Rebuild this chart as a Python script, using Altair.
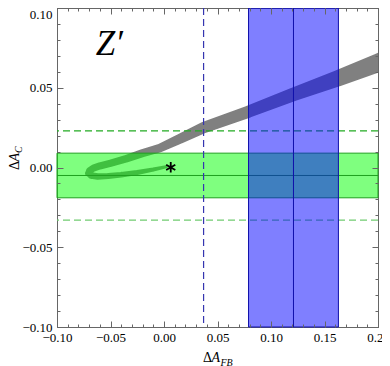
import altair as alt
import pandas as pd

# ---------------- data ----------------
X_DOMAIN = [-0.10, 0.20]
Y_DOMAIN = [-0.10, 0.10]
x_major = [-0.10, -0.05, 0.00, 0.05, 0.10, 0.15, 0.20]
y_major = [-0.10, -0.05, 0.00, 0.05, 0.10]
x_minor = [round(-0.10 + 0.01 * i, 2) for i in range(31)]
y_minor = [round(-0.10 + 0.01 * i, 2) for i in range(21)]

# grey Z' band: centre line (from the lower tip round the fold to the upper end)
curve_x = [0.002, -0.010, -0.025, -0.040, -0.052, -0.062, -0.068, -0.0705, -0.0695,
           -0.066, -0.060, -0.050, -0.035, -0.020, -0.004, 0.015, 0.037, 0.079,
           0.121, 0.163, 0.200, 0.215]
curve_y = [0.0005, -0.0013, -0.0031, -0.0045, -0.0053, -0.0056, -0.0050, -0.0036, -0.0020,
           -0.0004, 0.0010, 0.0027, 0.0056, 0.0090, 0.0121, 0.0180, 0.0250, 0.0350,
           0.0458, 0.0560, 0.0656, 0.0695]
# band width (in units of Delta A_C)
curve_w = [0.0020, 0.0026, 0.0031, 0.0035, 0.0038, 0.0041, 0.0042, 0.0043, 0.0043,
           0.0044, 0.0045, 0.0046, 0.0048, 0.0050, 0.0054, 0.0062, 0.0070, 0.0076,
           0.0085, 0.0102, 0.0117, 0.0122]

green_center = -0.005
green_band = [-0.019, 0.009]
green_dash_hi = 0.023
green_dash_lo = -0.033

blue_center = 0.121
blue_band = [0.079, 0.163]
blue_dash = 0.037

star_x, star_y = [0.0063], [0.0001]
zlabel_x, zlabel_y, zlabel_text = [-0.0638], [0.0705], ["Z\u2032"]

# ---------------- layout ----------------
W, H = 321, 319
PX_PER_Y = H / (Y_DOMAIN[1] - Y_DOMAIN[0])
FONT = "Liberation Serif"

xs = alt.Scale(domain=X_DOMAIN, nice=False, zero=False)
ys = alt.Scale(domain=Y_DOMAIN, nice=False, zero=False)


def X(f="x"):
    return alt.X(f"{f}:Q", scale=xs, axis=None)


def Y(f="y"):
    return alt.Y(f"{f}:Q", scale=ys, axis=None)


curve = pd.DataFrame({"x": curve_x, "y": curve_y,
                      "w": [w * PX_PER_Y for w in curve_w],
                      "i": list(range(len(curve_x)))})
trail = alt.Chart(curve).mark_trail(color="#808080", fill="#808080", clip=True).encode(
    x=X(), y=Y(), size=alt.Size("w:Q", scale=None, legend=None), order="i:Q")

gdf = pd.DataFrame({"x": [X_DOMAIN[0]], "x2": [X_DOMAIN[1]],
                    "y": [green_band[0]], "y2": [green_band[1]]})
grect = alt.Chart(gdf).mark_rect(fill="#00ff00", fillOpacity=0.5, stroke="#1fa01f",
                                 strokeWidth=1).encode(x=X(), x2="x2:Q", y=Y(), y2="y2:Q")
gline = alt.Chart(pd.DataFrame({"y": [green_center]})).mark_rule(
    color="#1fa01f", strokeWidth=1).encode(y=Y())
gdash_hi = alt.Chart(pd.DataFrame({"y": [green_dash_hi]})).mark_rule(
    color="#22aa22", strokeWidth=1.3, strokeDash=[7, 4]).encode(y=Y())
gdash_lo = alt.Chart(pd.DataFrame({"y": [green_dash_lo]})).mark_rule(
    color="#70cc70", strokeWidth=1.3, strokeDash=[7, 4]).encode(y=Y())

bdf = pd.DataFrame({"x": [blue_band[0]], "x2": [blue_band[1]],
                    "y": [Y_DOMAIN[0]], "y2": [Y_DOMAIN[1]]})
brect = alt.Chart(bdf).mark_rect(fill="#0000ff", fillOpacity=0.5, stroke="#1010aa",
                                 strokeWidth=1).encode(x=X(), x2="x2:Q", y=Y(), y2="y2:Q")
bline = alt.Chart(pd.DataFrame({"x": [blue_center]})).mark_rule(
    color="#1010aa", strokeWidth=1).encode(x=X())
bdash = alt.Chart(pd.DataFrame({"x": [blue_dash]})).mark_rule(
    color="#3535b0", strokeWidth=1.2, strokeDash=[7, 4]).encode(x=X())

ASTERISK = "M0,-1L0,1M-0.87,-0.5L0.87,0.5M-0.87,0.5L0.87,-0.5"
star = alt.Chart(pd.DataFrame({"x": star_x, "y": star_y})).mark_point(
    shape=ASTERISK, filled=False, stroke="black", strokeWidth=1.8, size=110,
    opacity=1).encode(x=X(), y=Y())

zlab = alt.Chart(pd.DataFrame({"x": zlabel_x, "y": zlabel_y, "t": zlabel_text})).mark_text(
    font=FONT, fontStyle="italic", fontSize=35, align="left", baseline="alphabetic",
    color="black").encode(x=X(), y=Y(), text="t:N")

# ---------------- frame axes ----------------
frame = pd.DataFrame({"x": X_DOMAIN, "y": Y_DOMAIN})
common = dict(grid=False, domain=False, title=None, tickColor="#666666", zindex=1)
lab = dict(labelFont=FONT, labelFontSize=13, labelColor="black", format=".2f",
           labelFlush=False, labelOverlap=False)


def axes_layer(xa, ya):
    return alt.Chart(frame).mark_point(opacity=0).encode(
        x=alt.X("x:Q", scale=xs, axis=alt.Axis(**xa)),
        y=alt.Y("y:Q", scale=ys, axis=alt.Axis(**ya)))


axA = axes_layer(
    dict(orient="bottom", values=x_major, tickSize=6, offset=-6, labels=True,
         labelPadding=4, **common, **lab),
    dict(orient="left", values=y_major, tickSize=6, offset=-6, labels=True,
         labelPadding=5,
         labelBaseline={"condition": {"test": "datum.value > 0.095", "value": "top"},
                        "value": "middle"},
         **common, **lab))
axB = axes_layer(
    dict(orient="bottom", values=x_minor, tickSize=3, offset=-3, labels=False, **common),
    dict(orient="left", values=y_minor, tickSize=3, offset=-3, labels=False, **common))
axC = axes_layer(
    dict(orient="top", values=x_major, tickSize=6, offset=-6, labels=False, **common),
    dict(orient="right", values=y_major, tickSize=6, offset=-6, labels=False, **common))
axD = axes_layer(
    dict(orient="top", values=x_minor, tickSize=3, offset=-3, labels=False, **common),
    dict(orient="right", values=y_minor, tickSize=3, offset=-3, labels=False, **common))

# ---------------- axis titles (with subscripts) ----------------
one = pd.DataFrame({"a": [0]})


def txt(t, x, y, size, style="normal", angle=0):
    return alt.Chart(one).mark_text(text=t, font=FONT, fontSize=size, fontStyle=style,
                                    align="left", baseline="alphabetic", angle=angle,
                                    color="black").encode(x=alt.value(x), y=alt.value(y))


xt1 = txt("\u0394", 146, 354, 14)
xt2 = txt("A", 154.5, 354, 14, "italic")
xt3 = txt("FB", 163.5, 357.5, 10, "italic")
yt1 = txt("\u0394", -38.0, 162, 14, angle=270)
yt2 = txt("A", -38.0, 153.4, 14, "italic", angle=270)
yt3 = txt("C", -35.0, 145, 10, "italic", angle=270)

chart = alt.layer(
    trail, grect, gline, gdash_hi, gdash_lo, brect, bline, bdash, star, zlab,
    axA, axB, axC, axD, xt1, xt2, xt3, yt1, yt2, yt3
).resolve_axis(x="independent", y="independent").properties(
    width=W, height=H,
    padding={"left": 49, "top": 0, "right": 4, "bottom": 45},
    autosize=alt.AutoSizeParams(type="none"),
).configure_view(stroke="#666666", strokeWidth=1)

chart.save("out.html", embed_options={"renderer": "svg", "actions": False})
